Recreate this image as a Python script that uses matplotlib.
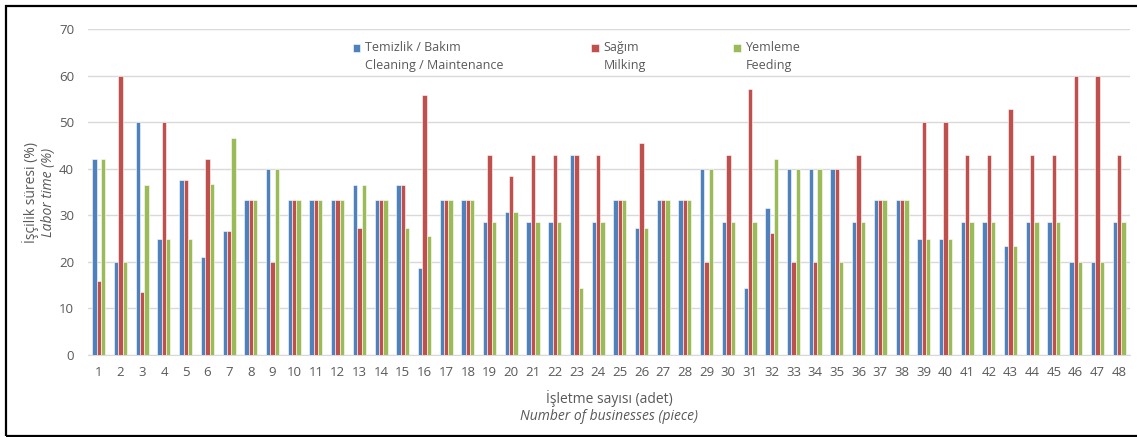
import numpy as np
import matplotlib
matplotlib.use("Agg")
import matplotlib.pyplot as plt
import matplotlib.patches as mpatches
from matplotlib.container import BarContainer
from matplotlib.legend_handler import HandlerPatch, update_from_first_child

# ── Data ───────────────────────────────────────────────────────────────────────
businesses = list(range(1, 49))
cleaning = [42.1, 20.0, 50.0, 25.0, 37.5, 21.1, 26.7, 33.3, 40.0, 33.3,
            33.3, 33.3, 36.4, 33.3, 36.4, 18.6, 33.3, 33.3, 28.6, 30.8,
            28.6, 28.6, 42.9, 28.6, 33.3, 27.3, 33.3, 33.3, 40.0, 28.6,
            14.3, 31.6, 40.0, 40.0, 40.0, 28.6, 33.3, 33.3, 25.0, 25.0,
            28.6, 28.6, 23.5, 28.6, 28.6, 20.0, 20.0, 28.6]
milking = [15.8, 60.0, 13.6, 50.0, 37.5, 42.1, 26.7, 33.3, 20.0, 33.3,
           33.3, 33.3, 27.3, 33.3, 36.4, 55.8, 33.3, 33.3, 42.9, 38.5,
           42.9, 42.9, 42.9, 42.9, 33.3, 45.5, 33.3, 33.3, 20.0, 42.9,
           57.1, 26.3, 20.0, 20.0, 40.0, 42.9, 33.3, 33.3, 50.0, 50.0,
           42.9, 42.9, 52.9, 42.9, 42.9, 60.0, 60.0, 42.9]
feeding = [42.1, 20.0, 36.4, 25.0, 25.0, 36.8, 46.7, 33.3, 40.0, 33.3,
           33.3, 33.3, 36.4, 33.3, 27.3, 25.6, 33.3, 33.3, 28.6, 30.8,
           28.6, 28.6, 14.3, 28.6, 33.3, 27.3, 33.3, 33.3, 40.0, 28.6,
           28.6, 42.1, 40.0, 40.0, 20.0, 28.6, 33.3, 33.3, 25.0, 25.0,
           28.6, 28.6, 23.5, 28.6, 28.6, 20.0, 20.0, 28.6]
labels = ["Temizlik / Bakım\nCleaning / Maintenance",
          "Sağım\nMilking",
          "Yemleme\nFeeding"]
yticks = [0, 10, 20, 30, 40, 50, 60, 70]

# ── Style ──────────────────────────────────────────────────────────────────────
BLUE = "#4F81BD"; RED = "#C0504D"; GREEN = "#9BBB59"
TXT = "#595959"; GRID = "#D9D9D9"
plt.rcParams["font.family"] = ["Open Sans", "DejaVu Sans"]

fig = plt.figure(figsize=(11.37, 4.37), dpi=100, facecolor="white")
ax = fig.add_axes([0.0774, 0.1876, 0.9164, 0.746])

x = np.array(businesses)
w = 0.2
for off, vals, col, lab in [(-w, cleaning, BLUE, labels[0]),
                            (0, milking, RED, labels[1]),
                            (w, feeding, GREEN, labels[2])]:
    ax.bar(x + off, vals, width=w, color=col, edgecolor="white",
           linewidth=0.4, label=lab, zorder=3)

ax.set_xlim(0.5, 48.5)
ax.set_ylim(0, 70)
ax.set_yticks(yticks)
ax.set_xticks(businesses)
ax.grid(axis="y", color=GRID, lw=1, zorder=0)
for s in ["top", "right", "left"]:
    ax.spines[s].set_visible(False)
ax.spines["bottom"].set_color(GRID)
ax.tick_params(axis="both", length=0, colors=TXT, labelsize=9.5)
ax.tick_params(axis="x", pad=8)
ax.tick_params(axis="y", pad=10)

# axis titles (two lines, second italic)
fig.text(0.536, 0.088, "İşletme sayısı (adet)", color=TXT, fontsize=10,
         ha="center", va="center")
fig.text(0.536, 0.046, "Number of businesses (piece)", color=TXT, fontsize=10,
         ha="center", va="center", style="italic")
fig.text(0.027, 0.56, "İşçilik süresi (%)", color=TXT, fontsize=10,
         ha="center", va="center", rotation=90)
fig.text(0.043, 0.56, "Labor time (%)", color=TXT, fontsize=10,
         ha="center", va="center", rotation=90, style="italic")

# legend squares sit on the first text line, like the original
def top_square(legend, orig_handle, xdescent, ydescent, width, height, fontsize):
    return mpatches.Rectangle((-xdescent, -ydescent + 0.75 * fontsize), width, height)

leg = ax.legend(loc="center", bbox_to_anchor=(0.469, 0.915), ncol=3,
                frameon=False, fontsize=9, columnspacing=7.0,
                handlelength=0.6, handleheight=0.6, handletextpad=0.4,
                labelcolor=TXT,
                handler_map={BarContainer: HandlerPatch(
                    patch_func=top_square, update_func=update_from_first_child)})
for t in leg.get_texts():
    t.set_linespacing(1.5)

# outer frame
fig.patches.append(mpatches.Rectangle((6 / 1137, 1.5 / 437), 1.2, 430 / 437,
                                      transform=fig.transFigure, fill=False,
                                      edgecolor="black", lw=1.6, zorder=10))

fig.savefig("out.png", dpi=100, facecolor="white")
